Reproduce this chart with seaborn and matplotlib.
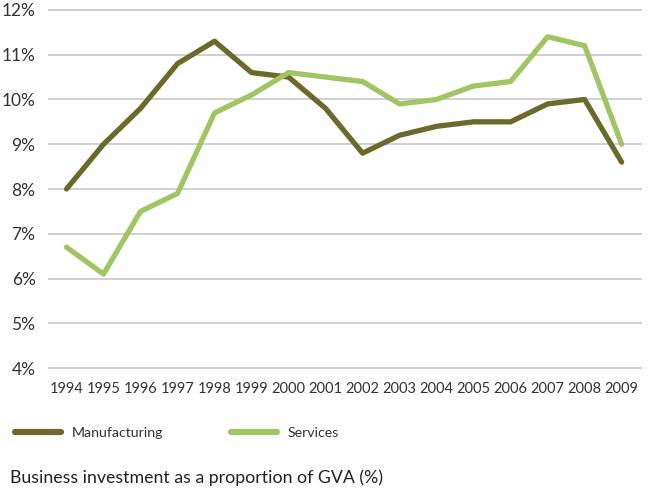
import pandas as pd
import seaborn as sns
import matplotlib.pyplot as plt

# Business investment as a proportion of GVA (%)
years = list(range(1994, 2010))
manufacturing = [8.0, 9.0, 9.8, 10.8, 11.3, 10.6, 10.5, 9.8, 8.8, 9.2, 9.4, 9.5, 9.5, 9.9, 10.0, 8.6]
services = [6.7, 6.1, 7.5, 7.9, 9.7, 10.1, 10.6, 10.5, 10.4, 9.9, 10.0, 10.3, 10.4, 11.4, 11.2, 9.0]
series_names = ["Manufacturing", "Services"]
colors = ["#6b6a2b", "#a2c563"]
y_ticks = [4, 5, 6, 7, 8, 9, 10, 11, 12]

df = pd.DataFrame({"year": years, "Manufacturing": manufacturing, "Services": services})
df = df.melt(id_vars="year", var_name="sector", value_name="pct")

sns.set_style("white")
plt.rcParams['font.family'] = ['Lato', 'DejaVu Sans']

fig = plt.figure(figsize=(6.5, 4.94), dpi=100)
ax = fig.add_axes([48 / 650, 1 - 369 / 494, 594 / 650, 360 / 494])

sns.lineplot(data=df, x="year", y="pct", hue="sector", hue_order=series_names,
             palette=colors, linewidth=3.8, ax=ax, legend=True)

ax.set_xlim(1993.5, 2009.55)
ax.set_ylim(3.98, 12.02)
ax.set_yticks(y_ticks)
ax.set_yticklabels([f"{t}%" for t in y_ticks], fontsize=12.5, color="#333333")
ax.set_xticks(years)
ax.set_xticklabels([str(y) for y in years], fontsize=10.5, color="#333333")
ax.tick_params(axis="both", length=0)
ax.tick_params(axis="y", pad=9)
ax.tick_params(axis="x", pad=9)
ax.yaxis.grid(True, color="#c8c8c8", linewidth=1.2)
ax.set_axisbelow(True)
for s in ax.spines.values():
    s.set_visible(False)
ax.set_xlabel("")
ax.set_ylabel("")

handles, labels = ax.get_legend_handles_labels()
ax.get_legend().remove()
for h in handles:
    h.set_linewidth(4.5)
    h.set_solid_capstyle("round")
fig.legend(handles, labels, loc="center left", bbox_to_anchor=(0.003, 1 - 433 / 494),
           ncol=2, frameon=False, fontsize=10.2, handlelength=3.3, handletextpad=0.7,
           columnspacing=4.8, labelcolor="#333333")

fig.text(10 / 650, 1 - 478 / 494, "Business investment as a proportion of GVA (%)",
         fontsize=12.8, color="#222222", va="center", ha="left")

fig.savefig("out.png", dpi=100)
